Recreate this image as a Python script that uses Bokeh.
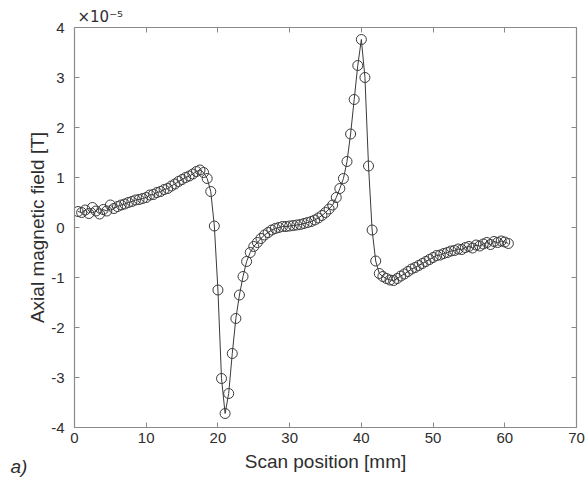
from bokeh.plotting import figure
from bokeh.embed import file_html
from bokeh.resources import INLINE
from bokeh.models import LinearAxis, FixedTicker, Title, Range1d

# Scan positions [mm]
scan_pos = [
    0.5, 1.0, 1.5, 2.0, 2.5, 3.0, 3.5, 4.0, 4.5, 5.0,
    5.5, 6.0, 6.5, 7.0, 7.5, 8.0, 8.5, 9.0, 9.5, 10.0,
    10.5, 11.0, 11.5, 12.0, 12.5, 13.0, 13.5, 14.0, 14.5, 15.0,
    15.5, 16.0, 16.5, 17.0, 17.5, 18.0, 18.5, 19.0, 19.5, 20.0,
    20.5, 21.0, 21.5, 22.0, 22.5, 23.0, 23.5, 24.0, 24.5, 25.0,
    25.5, 26.0, 26.5, 27.0, 27.5, 28.0, 28.5, 29.0, 29.5, 30.0,
    30.5, 31.0, 31.5, 32.0, 32.5, 33.0, 33.5, 34.0, 34.5, 35.0,
    35.5, 36.0, 36.5, 37.0, 37.5, 38.0, 38.5, 39.0, 39.5, 40.0,
    40.5, 41.0, 41.5, 42.0, 42.5, 43.0, 43.5, 44.0, 44.5, 45.0,
    45.5, 46.0, 46.5, 47.0, 47.5, 48.0, 48.5, 49.0, 49.5, 50.0,
    50.5, 51.0, 51.5, 52.0, 52.5, 53.0, 53.5, 54.0, 54.5, 55.0,
    55.5, 56.0, 56.5, 57.0, 57.5, 58.0, 58.5, 59.0, 59.5, 60.0,
    60.5,
]

# Axial magnetic field [x1e-5 T]
field = [
    0.32, 0.30, 0.35, 0.28, 0.40, 0.33, 0.27, 0.36, 0.33, 0.45,
    0.38, 0.42, 0.45, 0.47, 0.50, 0.52, 0.55, 0.56, 0.58, 0.60,
    0.65, 0.66, 0.70, 0.72, 0.76, 0.78, 0.83, 0.87, 0.92, 0.96,
    1.00, 1.03, 1.07, 1.12, 1.15, 1.10, 0.98, 0.72, 0.03, -1.25,
    -3.02, -3.72, -3.32, -2.52, -1.82, -1.35, -0.98, -0.68, -0.50, -0.38,
    -0.30, -0.22, -0.15, -0.10, -0.05, -0.02, 0.00, 0.02, 0.02, 0.03,
    0.04, 0.05, 0.06, 0.08, 0.10, 0.12, 0.15, 0.19, 0.24, 0.30,
    0.37, 0.45, 0.60, 0.78, 0.98, 1.32, 1.87, 2.56, 3.24, 3.76,
    3.00, 1.23, -0.05, -0.67, -0.92, -0.98, -1.02, -1.05, -1.06, -1.02,
    -0.97, -0.93, -0.88, -0.83, -0.80, -0.76, -0.72, -0.68, -0.64, -0.60,
    -0.56, -0.55, -0.52, -0.50, -0.47, -0.46, -0.43, -0.44, -0.40, -0.38,
    -0.41, -0.35, -0.37, -0.33, -0.30, -0.34, -0.28, -0.30, -0.27, -0.29,
    -0.32,
]

x_ticks = [0, 10, 20, 30, 40, 50, 60, 70]
y_ticks = [-4, -3, -2, -1, 0, 1, 2, 3, 4]
x_label = "Scan position [mm]"
y_label = "Axial magnetic field [T]"
exp_text = "×10⁻⁵"
panel_tag = "a)"

FONT = "Liberation Sans"
TEXT = "#2e2e2e"
AXC = "#8a8a8a"
INK = "#3a3a3a"

p = figure(width=587, height=481, output_backend="svg", toolbar_location=None,
           x_range=Range1d(0, 70), y_range=Range1d(-4, 4),
           min_border_left=74, min_border_right=11, min_border_top=27, min_border_bottom=54,
           background_fill_color="white", border_fill_color="white")
p.outline_line_color = None
p.xgrid.visible = False
p.ygrid.visible = False

p.line(scan_pos, field, line_color=INK, line_width=1)
p.scatter(scan_pos, field, marker="circle", size=10, fill_color=None,
          line_color=INK, line_width=1)

def style(ax, ticks, show_labels):
    ax.ticker = FixedTicker(ticks=ticks)
    ax.axis_line_color = AXC
    ax.axis_line_width = 1.2
    ax.major_tick_line_color = AXC
    ax.major_tick_in = 5
    ax.major_tick_out = 0
    ax.minor_tick_line_color = None
    ax.major_label_text_font = FONT
    ax.major_label_text_font_size = "15px"
    ax.major_label_text_color = TEXT
    ax.axis_label_text_font = FONT
    ax.axis_label_text_font_style = "normal"
    ax.axis_label_text_color = TEXT
    ax.axis_label_text_font_size = "19px"
    if not show_labels:
        ax.major_label_text_font_size = "0px"
        ax.major_label_text_alpha = 0

xa = p.xaxis[0]
ya = p.yaxis[0]
style(xa, x_ticks, True)
style(ya, y_ticks, True)
xa.axis_label = x_label
ya.axis_label = y_label
xa.major_label_overrides = {t: str(t) for t in x_ticks}
ya.major_label_overrides = {t: str(t) for t in y_ticks}
xa.major_label_standoff = 5
xa.axis_label_standoff = 5
ya.major_label_standoff = 10
ya.axis_label_standoff = 0

top = LinearAxis()
right = LinearAxis()
style(top, x_ticks, False)
style(right, y_ticks, False)
p.add_layout(top, "above")
p.add_layout(right, "right")

p.title.text = exp_text
p.title.align = "left"
p.title.offset = 3
p.title.standoff = 3
p.title.text_font = "DejaVu Sans"
p.title.text_font_size = "15px"
p.title.text_font_style = "normal"
p.title.text_color = TEXT

tag = Title(text=panel_tag, align="left", vertical_align="top", offset=-64, standoff=-38,
            text_font=FONT, text_font_size="19px", text_font_style="italic",
            text_color=TEXT)
p.add_layout(tag, "below")

open("out.html", "w").write(file_html(p, INLINE))
